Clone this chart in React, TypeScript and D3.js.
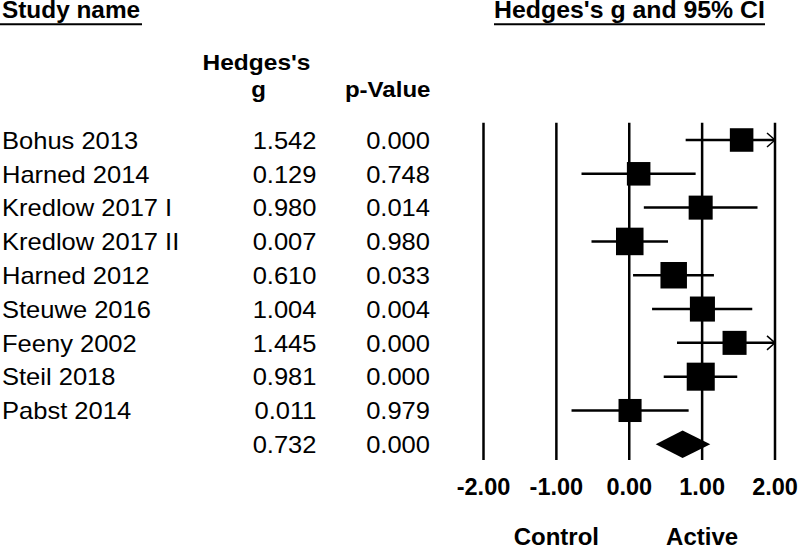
import React from "react";
import * as d3 from "d3";

const studies = [
  "Bohus 2013",
  "Harned 2014",
  "Kredlow 2017 I",
  "Kredlow 2017 II",
  "Harned 2012",
  "Steuwe 2016",
  "Feeny 2002",
  "Steil 2018",
  "Pabst 2014",
];
const hedgesG = [1.542, 0.129, 0.98, 0.007, 0.61, 1.004, 1.445, 0.981, 0.011];
const pValues = ["0.000", "0.748", "0.014", "0.980", "0.033", "0.004", "0.000", "0.000", "0.979"];
const lowerCI = [0.774, -0.655, 0.2, -0.518, 0.052, 0.313, 0.655, 0.473, -0.792];
const upperCI = [2.31, 0.911, 1.76, 0.532, 1.162, 1.688, 2.235, 1.482, 0.815];
const weights = [9.8, 9.8, 10.2, 13.4, 12.4, 11.1, 10.2, 13.9, 9.4];

const summaryG = 0.732;
const summaryP = "0.000";
const summaryLower = 0.363;
const summaryUpper = 1.112;

const ticks = [-2, -1, 0, 1, 2];
const favoursLeft = "Control";
const favoursRight = "Active";

const FONT = "'Liberation Sans', Arial, Helvetica, sans-serif";

function T(props: {
  x: number;
  y: number;
  children: React.ReactNode;
  size: number;
  bold?: boolean;
  anchor?: "start" | "middle" | "end";
  sx?: number;
}) {
  const { x, y, children, size, bold, anchor = "start", sx = 1 } = props;
  return (
    <text
      transform={`translate(${x},${y}) scale(${sx},1)`}
      fontSize={size}
      fontWeight={bold ? "bold" : "normal"}
      textAnchor={anchor}
      fontFamily={FONT}
      fill="#000"
    >
      {children}
    </text>
  );
}

export default function App() {
  const width = 800;
  const height = 546;

  const x = d3.scaleLinear().domain([-2, 2]).range([483.5, 775]);
  const rowKeys = [...studies.map((_, i) => `s${i}`), "summary"];
  const y = d3.scalePoint<string>().domain(rowKeys).range([140, 444.3]);
  const box = d3.scaleSqrt().domain([0, 100]).range([0, 75.2]);

  const plotTop = 122.7;
  const plotBottom = 460;
  const clipMax = 2;
  const clipMin = -2;

  const rowSize = 23;
  const rowSx = 1.11;
  const baseOff = 8.7;

  const sy = y("summary") as number;
  const diamondHalf = 13.8;

  return (
    <svg
      width={width}
      height={height}
      style={{ position: "absolute", left: 0, top: 0, background: "#fff" }}
    >
      <rect x={0} y={0} width={width} height={height} fill="#fff" />

      {/* headers */}
      <T x={2} y={18.3} size={23} bold sx={1.06}>Study name</T>
      <line x1={0} x2={142} y1={24.3} y2={24.3} stroke="#000" strokeWidth={2} />
      <T x={629.5} y={18.3} size={23} bold sx={1.08} anchor="middle">
        Hedges's g and 95% CI
      </T>
      <line x1={494} x2={765} y1={24.3} y2={24.3} stroke="#000" strokeWidth={2} />

      <T x={256.5} y={70} size={21.5} bold sx={1.14} anchor="middle">Hedges's</T>
      <T x={258.5} y={97} size={21.5} bold sx={1.12} anchor="middle">g</T>
      <T x={430.5} y={97} size={21.5} bold sx={1.12} anchor="end">p-Value</T>

      {/* table rows */}
      {studies.map((s, i) => {
        const cy = y(`s${i}`) as number;
        return (
          <g key={s}>
            <T x={2} y={cy + baseOff} size={rowSize} sx={rowSx}>{s}</T>
            <T x={316.5} y={cy + baseOff} size={rowSize} sx={rowSx} anchor="end">
              {hedgesG[i].toFixed(3)}
            </T>
            <T x={430} y={cy + baseOff} size={rowSize} sx={rowSx} anchor="end">
              {pValues[i]}
            </T>
          </g>
        );
      })}
      <T x={316.5} y={sy + baseOff} size={rowSize} sx={rowSx} anchor="end">
        {summaryG.toFixed(3)}
      </T>
      <T x={430} y={sy + baseOff} size={rowSize} sx={rowSx} anchor="end">
        {summaryP}
      </T>

      {/* vertical grid lines */}
      {ticks.map((t) => (
        <line
          key={t}
          x1={x(t)}
          x2={x(t)}
          y1={plotTop}
          y2={plotBottom}
          stroke="#000"
          strokeWidth={2.5}
        />
      ))}

      {/* study CIs */}
      {studies.map((s, i) => {
        const cy = y(`s${i}`) as number;
        const lo = Math.max(clipMin, lowerCI[i]);
        const hi = Math.min(clipMax, upperCI[i]);
        const sz = box(weights[i]);
        const arrowRight = upperCI[i] > clipMax;
        return (
          <g key={s}>
            <line x1={x(lo)} x2={x(hi)} y1={cy} y2={cy} stroke="#000" strokeWidth={2.5} />
            {arrowRight && (
              <polyline
                points={`${x(clipMax) - 8},${cy - 7} ${x(clipMax)},${cy} ${x(clipMax) - 8},${cy + 7}`}
                fill="none"
                stroke="#000"
                strokeWidth={1.5}
              />
            )}
            <rect
              x={x(hedgesG[i]) - sz / 2}
              y={cy - sz / 2}
              width={sz}
              height={sz}
              fill="#000"
            />
          </g>
        );
      })}

      {/* summary diamond */}
      <polygon
        points={`${x(summaryLower)},${sy} ${x(summaryG)},${sy - diamondHalf} ${x(summaryUpper)},${sy} ${x(summaryG)},${sy + diamondHalf}`}
        fill="#000"
      />

      {/* tick labels */}
      {ticks.map((t) => (
        <T key={t} x={x(t)} y={495} size={23.5} bold anchor="middle">
          {t.toFixed(2)}
        </T>
      ))}

      <T x={x(-1)} y={544.5} size={24} bold anchor="middle">{favoursLeft}</T>
      <T x={x(1)} y={544.5} size={24} bold anchor="middle">{favoursRight}</T>
    </svg>
  );
}
